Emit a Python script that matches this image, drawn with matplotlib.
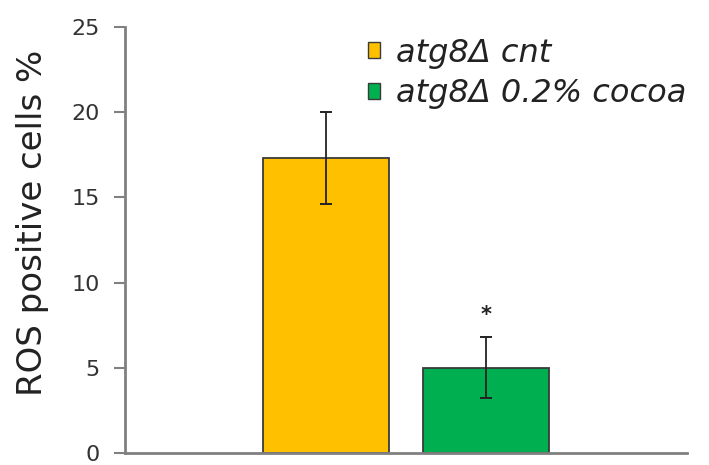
import matplotlib
matplotlib.use("Agg")
import matplotlib.pyplot as plt
from matplotlib.patches import Patch

plt.rcParams['font.family'] = ['DejaVu Sans']

groups = ["atg8\u0394 cnt", "atg8\u0394 0.2% cocoa"]
means = [17.3, 5.0]
errors = [2.7, 1.8]
colors = ["#FFC000", "#00B050"]
significance = ["", "*"]
y_ticks = [0, 5, 10, 15, 20, 25]

fig = plt.figure(figsize=(7.09, 4.65), dpi=100)
ax = fig.add_axes([0.176, 0.026, 0.793, 0.916])

xpos = list(range(len(means)))
ax.bar(xpos, means, width=0.79, color=colors, edgecolor="#3a3a3a", linewidth=1.3, zorder=2)
ax.errorbar(xpos, means, yerr=errors, fmt="none", ecolor="#222222",
            elinewidth=1.3, capsize=4.5, capthick=1.4, zorder=3)
for x, m, e, s in zip(xpos, means, errors, significance):
    if s:
        ax.text(x, m + e + 1.3, s, ha="center", va="center", fontsize=15,
                fontweight="bold", color="#222222")

ax.set_xlim(-1.256, 2.256)
ax.set_ylim(0, 25)
ax.set_yticks(y_ticks)
ax.set_yticklabels([str(t) for t in y_ticks], fontsize=16, color="#333333")
ax.set_xticks([])
ax.tick_params(axis="y", direction="out", length=8, width=1.5, color="#808080", pad=10)

for side in ("top", "right"):
    ax.spines[side].set_visible(False)
for side in ("left", "bottom"):
    ax.spines[side].set_color("#808080")
    ax.spines[side].set_linewidth(2)

ax.set_ylabel("ROS positive cells %", fontsize=24.5, color="#222222")
ax.yaxis.set_label_coords(-0.135, 0.54)

handles = [Patch(facecolor=c, edgecolor="#3a3a3a", linewidth=1) for c in colors]
leg = ax.legend(handles, groups, loc="upper left", bbox_to_anchor=(0.398, 1.02),
                frameon=False, handlelength=0.37, handleheight=0.37, handletextpad=0.5,
                labelspacing=0.3, borderaxespad=0.2,
                prop={"style": "oblique", "size": 23})
for t in leg.get_texts():
    t.set_color("#222222")

fig.savefig("out.png", dpi=100, facecolor="white")
